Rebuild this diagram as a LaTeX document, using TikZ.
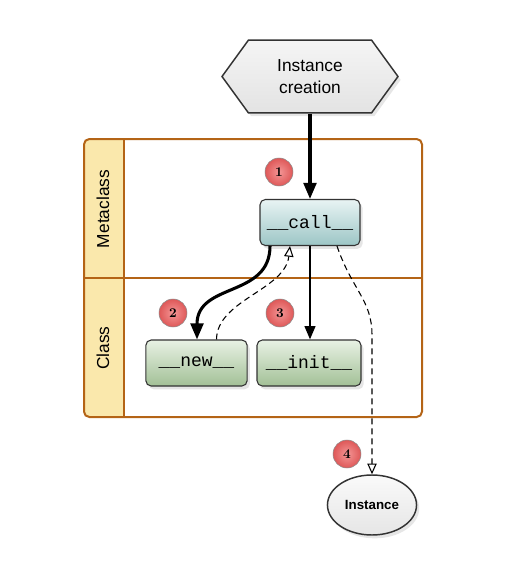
\documentclass[tikz,border=0pt]{standalone}
\usepackage{fontspec}
\setsansfont{Liberation Sans}
\setmonofont{Liberation Mono}
\usetikzlibrary{arrows.meta,shapes.symbols,shapes.geometric,shadows,calc}

\definecolor{poolline}{RGB}{180,100,22}
\definecolor{lanefill}{RGB}{250,232,172}
\definecolor{calltop}{RGB}{232,243,243}
\definecolor{callbot}{RGB}{156,198,198}
\definecolor{greentop}{RGB}{232,241,228}
\definecolor{greenbot}{RGB}{162,192,150}
\definecolor{badgein}{RGB}{244,150,150}
\definecolor{badgeout}{RGB}{222,88,88}

\begin{document}
\begin{tikzpicture}[x=0.75pt,y=-0.75pt,
  soft/.style={drop shadow={opacity=0.2,shadow xshift=2pt,shadow yshift=-2.5pt}},
  method/.style={soft,draw=black!80,line width=0.8pt,rounded corners=4pt,
    minimum height=34.5pt,font=\fontsize{13.5}{16}\selectfont\ttfamily},
  badge/.style={circle,draw=black!45,line width=0.4pt,inner color=badgein,
    outer color=badgeout,minimum size=21pt,inner sep=0pt,
    font=\fontsize{10}{11}\selectfont\bfseries},
  lanelabel/.style={rotate=90,font=\fontsize{13}{15}\selectfont\sffamily},
  flow/.style={line width=2.3pt,-{Triangle[length=12pt,width=9.5pt]}},
  ret/.style={line width=0.8pt,dash pattern=on 4.5pt off 3pt,
    -{Triangle[open,length=8pt,width=7pt,fill=white]}}]

  % Page
  \useasboundingbox (0,0) rectangle (530,565);

  % Pool with two lanes
  \fill[white,rounded corners=4pt] (84,139) rectangle (422,417);
  \fill[lanefill,rounded corners=4pt] (84,139) rectangle (134,417);
  \fill[white] (124,140) rectangle (420,416);
  \draw[poolline,line width=1.5pt,rounded corners=4pt] (84,139) rectangle (422,417);
  \draw[poolline,line width=1.5pt] (124,139) -- (124,417);
  \draw[poolline,line width=1.5pt] (84,278) -- (422,278);
  \node[lanelabel] (meta) at (103,209) {Metaclass};
  \node[lanelabel] (cls) at (103,348) {Class};

  % Entry point
  \node[soft,signal,signal to=west and east,signal pointer angle=108,
    draw=black!80,line width=1.1pt,top color=black!4,bottom color=black!11,
    minimum width=132pt,minimum height=54.5pt,inner xsep=0pt,align=center,
    font=\fontsize{13}{16}\selectfont\sffamily] (creation) at (310,76.5)
    {Instance\\creation};

  % Methods
  \node[method,top color=calltop,bottom color=callbot,minimum width=75pt] (call) at (310,222.5) {\_\_call\_\_};
  \node[method,top color=greentop,bottom color=greenbot,minimum width=76pt] (new) at (196.5,363) {\_\_new\_\_};
  \node[method,top color=greentop,bottom color=greenbot,minimum width=78pt] (init) at (309,363) {\_\_init\_\_};

  % Result
  \node[soft,ellipse,draw=black!80,line width=1.1pt,top color=black!2,
    bottom color=black!10,minimum width=61.5pt,minimum height=45pt,
    font=\fontsize{10}{12}\selectfont\sffamily\bfseries] (inst) at (372,505) {Instance};

  % Step markers
  \node[badge] (b1) at (279,172) {1};
  \node[badge] (b2) at (173,313) {2};
  \node[badge] (b3) at (280,313) {3};
  \node[badge] (b4) at (347,454) {4};

  % Calls
  \draw[flow] (creation.south) -- (call.north);
  \draw[flow] ($(call.south)+(-40,0)$) .. controls (270,298) and (197,282) .. (new.north -| 197,0);
  \draw[line width=1.6pt,-{Triangle[length=10pt,width=8pt]}] (call.south) -- (init.north -| call.south);

  % Returns
  \draw[ret] ($(new.north)+(20,0)$) .. controls (217,300) and (285,290) .. ($(call.south)+(-20,0)$);
  \coordinate (bend) at (372,335);
  \draw[ret] ($(call.south)+(27,0)$) .. controls (352,290) and (372,300) .. (bend) -- (inst.north);
\end{tikzpicture}
\end{document}
